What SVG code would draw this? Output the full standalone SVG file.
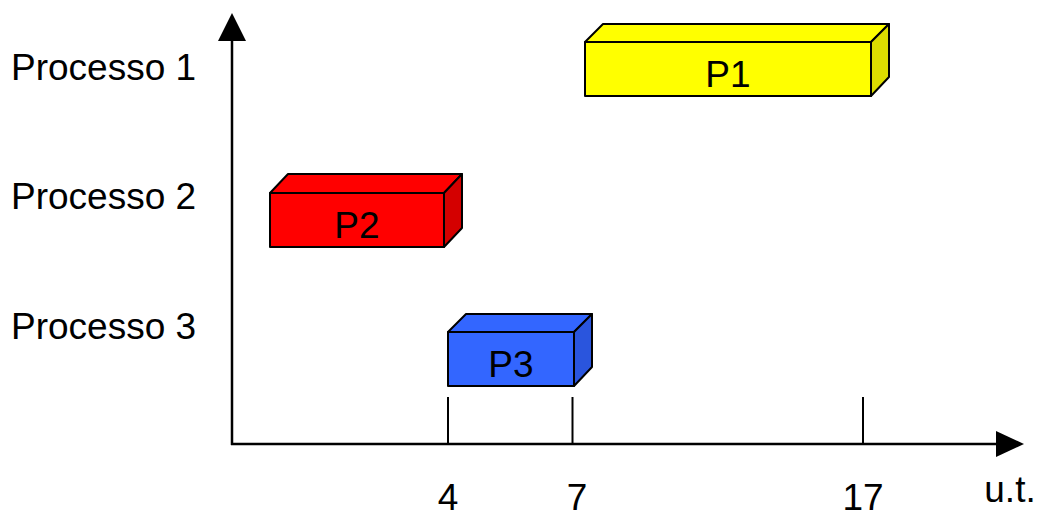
<svg xmlns="http://www.w3.org/2000/svg" width="1037" height="518" viewBox="0 0 1037 518">
  <style>
    .lbl { font-family: "Liberation Sans", Arial, sans-serif; font-size: 37px; fill: #000; }
    .box { stroke: #000; stroke-width: 2; stroke-linejoin: round; }
    .axis { stroke: #000; stroke-width: 2.5; fill: none; }
    .tick { stroke: #000; stroke-width: 2; }
  </style>
  <rect width="1037" height="518" fill="#fff"/>

  <!-- axes and time ticks -->
  <g id="connectors">
    <line class="axis" x1="232" y1="445" x2="232" y2="38"/>
    <polygon points="232,13 218,41 246,41" fill="#000"/>
    <line class="axis" x1="231" y1="444" x2="998" y2="444"/>
    <polygon points="1024,444 996,431 996,457" fill="#000"/>
    <line class="tick" x1="448" y1="397" x2="448" y2="444"/>
    <line class="tick" x1="572.5" y1="397" x2="572.5" y2="444"/>
    <line class="tick" x1="863" y1="397" x2="863" y2="444"/>
  </g>

  <!-- row labels -->
  <g id="row-labels">
    <text class="lbl" x="11" y="80">Processo 1</text>
    <text class="lbl" x="11" y="209">Processo 2</text>
    <text class="lbl" x="11" y="339">Processo 3</text>
  </g>

  <!-- time labels -->
  <g id="time-labels">
    <text class="lbl" x="448" y="510" text-anchor="middle">4</text>
    <text class="lbl" x="577" y="510" text-anchor="middle">7</text>
    <text class="lbl" x="863" y="510" text-anchor="middle">17</text>
    <text class="lbl" x="1010" y="502" text-anchor="middle">u.t.</text>
  </g>

  <!-- process P1 -->
  <g id="P1">
    <polygon class="box" fill="#ffff00" points="585,42 603,24 889,24 871,42"/>
    <polygon class="box" fill="#dcdc00" points="871,42 889,24 889,77 871,96"/>
    <rect class="box" fill="#ffff00" x="585" y="42" width="286" height="54"/>
    <text class="lbl" x="728" y="87" text-anchor="middle">P1</text>
  </g>

  <!-- process P2 -->
  <g id="P2">
    <polygon class="box" fill="#ff0000" points="270,193 288,174 462,174 444,193"/>
    <polygon class="box" fill="#d40000" points="444,193 462,174 462,228 444,247"/>
    <rect class="box" fill="#ff0000" x="270" y="193" width="174" height="54"/>
    <text class="lbl" x="357" y="238" text-anchor="middle">P2</text>
  </g>

  <!-- process P3 -->
  <g id="P3">
    <polygon class="box" fill="#3366ff" points="448,332 466,314 592,314 574,332"/>
    <polygon class="box" fill="#2a55dd" points="574,332 592,314 592,367 574,386"/>
    <rect class="box" fill="#3366ff" x="448" y="332" width="126" height="54"/>
    <text class="lbl" x="511" y="377" text-anchor="middle">P3</text>
  </g>
</svg>
